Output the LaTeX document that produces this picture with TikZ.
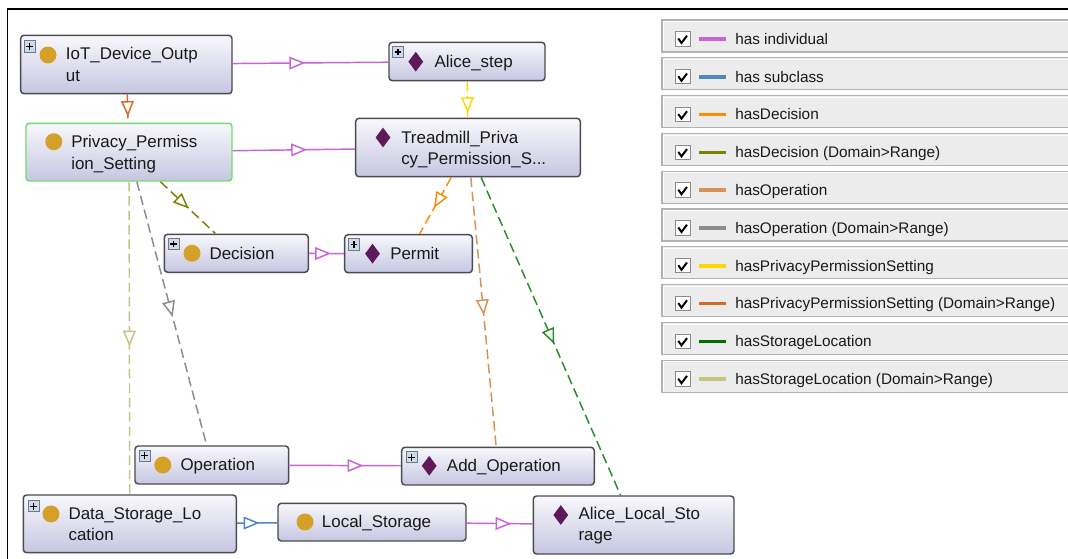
\documentclass[tikz,border=0pt]{standalone}
\usepackage{fontspec}
\setmainfont{Liberation Sans}
\usetikzlibrary{fit,decorations.markings,shapes.geometric}

\definecolor{cind}{RGB}{200,100,215}
\definecolor{csub}{RGB}{80,135,190}
\definecolor{cdec}{RGB}{255,140,0}
\definecolor{cdecdr}{RGB}{128,128,0}
\definecolor{cop}{RGB}{215,145,85}
\definecolor{copdr}{RGB}{140,140,140}
\definecolor{cpps}{RGB}{255,215,0}
\definecolor{cppsdr}{RGB}{215,105,40}
\definecolor{cstor}{RGB}{0,110,0}
\definecolor{cstoredge}{RGB}{40,140,40}
\definecolor{cstordr}{RGB}{200,195,130}
\definecolor{nodeborder}{RGB}{75,75,80}
\definecolor{nodetop}{RGB}{248,248,252}
\definecolor{nodebot}{RGB}{198,198,226}
\definecolor{clsgold}{RGB}{212,160,40}
\definecolor{indpurple}{RGB}{95,25,90}
\definecolor{legfill}{RGB}{236,236,236}
\definecolor{legedge}{RGB}{178,178,178}
\definecolor{txt}{RGB}{25,25,25}
\definecolor{selgreen}{RGB}{110,220,110}
\definecolor{plusfill}{RGB}{205,218,232}
\definecolor{plusedge}{RGB}{110,120,135}

\tikzset{
 ontobox/.style={draw=nodeborder, line width=1.1pt, rounded corners=2.5pt, top color=nodetop, bottom color=nodebot, inner sep=0pt},
 selbox/.style={draw=selgreen},
 lbl/.style={anchor=base west, inner sep=0pt, text=txt, font=\fontsize{12.7}{15}\selectfont},
 clsicon/.style={circle, fill=clsgold, inner sep=0pt, minimum size=12.75pt},
 indicon/.style={diamond, fill=indpurple, inner sep=0pt, minimum width=11.25pt, minimum height=15pt},
 plusicon/.style={rectangle, draw=plusedge, line width=0.6pt, fill=plusfill, inner sep=0pt, minimum size=8.4pt,
   path picture={\draw[black, line width=0.8pt] (path picture bounding box.center) ++(-2.5pt,0pt) -- ++(5pt,0pt)
     (path picture bounding box.center) ++(0pt,-2.5pt) -- ++(0pt,5pt);}},
 rel/.style={line width=1.1pt},
 dashrel/.style={rel, dash pattern=on 7.2pt off 3.6pt},
 legbox/.style={draw=legedge, line width=0.9pt, fill=legfill, inner sep=0pt},
 chkbox/.style={draw={rgb,255:red,140;green,140;blue,140}, line width=0.6pt, fill=white, inner sep=0pt},
 legtxt/.style={anchor=base west, inner sep=0pt, text=txt, font=\fontsize{11.5}{14}\selectfont},
}

\newcommand\ontorel[3]{%
  \draw[#1] (#2) -- (#3);
  \path[decorate, decoration={markings, mark=at position 0.5 with {\draw[#1, solid, fill=white, line join=miter] (-4.9pt,4.1pt) -- (4.9pt,0pt) -- (-4.9pt,-4.1pt) -- cycle;}}] (#2.center) -- (#3.center);
}

\begin{document}
\begin{tikzpicture}[x=0.75pt, y=-0.75pt]
\useasboundingbox (0,0) rectangle (1068,559);
\fill[white] (0,0) rectangle (1068,559);
% frame
\draw[black, line width=1.1pt] (7.5,570) -- (7.5,9) -- (1075,9);

% ---------- nodes ----------
\node[ontobox, fit={(20.7,35.3) (232,93.7)}] (iot) {};
\node[plusicon] (iotP) at (29.6,46.4) {};
\node[clsicon] (iotI) at (48,55) {};
\node[lbl] (iotA) at (65.7,60) {IoT\_Device\_Outp};
\node[lbl] (iotB) at (65.7,81.7) {ut};

\node[ontobox, selbox, fit={(26,123.3) (232,181)}] (pps) {};
\node[clsicon] (ppsI) at (53.8,141.7) {};
\node[lbl] (ppsA) at (71,147.5) {Privacy\_Permiss};
\node[lbl] (ppsB) at (71,169.5) {ion\_Setting};

\node[ontobox, fit={(389,42.3) (545,80.7)}] (alicestep) {};
\node[plusicon] (alicestepP) at (398,52) {};
\node[indicon] (alicestepI) at (415.8,61.7) {};
\node[lbl] (alicestepA) at (434.3,67.7) {Alice\_step};

\node[ontobox, fit={(355.7,118.3) (580.3,176.7)}] (tread) {};
\node[indicon] (treadI) at (383,137.5) {};
\node[lbl] (treadA) at (401,143.3) {Treadmill\_Priva};
\node[lbl] (treadB) at (401,165) {cy\_Permission\_S...};

\node[ontobox, fit={(164.3,234.3) (308.3,272.3)}] (decision) {};
\node[plusicon] (decisionP) at (173.5,244) {};
\node[clsicon] (decisionI) at (192,253.3) {};
\node[lbl] (decisionA) at (209.3,259.3) {Decision};

\node[ontobox, fit={(344.7,234.7) (472.3,272.7)}] (permit) {};
\node[plusicon] (permitP) at (354,244.4) {};
\node[indicon] (permitI) at (372.5,253.7) {};
\node[lbl] (permitA) at (390,259.7) {Permit};

\node[ontobox, fit={(135,446) (288.7,484)}] (operation) {};
\node[plusicon] (operationP) at (144.6,455.7) {};
\node[clsicon] (operationI) at (162.8,465) {};
\node[lbl] (operationA) at (180.3,470.5) {Operation};

\node[ontobox, fit={(401.7,447.3) (594.3,485)}] (addop) {};
\node[plusicon] (addopP) at (411.6,457.2) {};
\node[indicon] (addopI) at (429.2,465.8) {};
\node[lbl] (addopA) at (446.7,471.7) {Add\_Operation};

\node[ontobox, fit={(23.3,495) (236.3,552.7)}] (dsl) {};
\node[plusicon] (dslP) at (33.6,506.2) {};
\node[clsicon] (dslI) at (51,514) {};
\node[lbl] (dslA) at (68.3,520) {Data\_Storage\_Lo};
\node[lbl] (dslB) at (68.3,540.7) {cation};

\node[ontobox, fit={(278,503.3) (466,541)}] (local) {};
\node[clsicon] (localI) at (305,522) {};
\node[lbl] (localA) at (321.7,527.3) {Local\_Storage};

\node[ontobox, fit={(533.3,496) (734,554)}] (als) {};
\node[indicon] (alsI) at (560.8,515) {};
\node[lbl] (alsA) at (578.3,520) {Alice\_Local\_Sto};
\node[lbl] (alsB) at (578.3,540.7) {rage};

% ---------- connectors ----------
\ontorel{rel, cind}{iot}{alicestep}
\ontorel{rel, cind}{pps}{tread}
\ontorel{dashrel, cppsdr}{iot}{pps}
\ontorel{dashrel, cpps}{alicestep}{tread}
\ontorel{dashrel, cdecdr}{pps}{decision}
\ontorel{rel, cind}{decision}{permit}
\ontorel{dashrel, cdec}{tread}{permit}
\ontorel{dashrel, copdr}{pps}{operation}
\ontorel{dashrel, cstordr}{pps}{dsl}
\ontorel{dashrel, cop}{tread}{addop}
\ontorel{dashrel, cstoredge}{tread}{als}
\ontorel{rel, cind}{operation}{addop}
\ontorel{rel, csub}{dsl}{local}
\ontorel{rel, cind}{local}{als}

% ---------- legend ----------
\foreach \i/\c/\t in {0/cind/{has individual}, 1/csub/{has subclass}, 2/cdec/{hasDecision},
  3/cdecdr/{hasDecision (Domain>Range)}, 4/cop/{hasOperation}, 5/copdr/{hasOperation (Domain>Range)},
  6/cpps/{hasPrivacyPermissionSetting}, 7/cppsdr/{hasPrivacyPermissionSetting (Domain>Range)},
  8/cstor/{hasStorageLocation}, 9/cstordr/{hasStorageLocation (Domain>Range)}} {
  \pgfmathsetmacro\ly{20+37.8*\i}
  \node[legbox, fit={(662,\ly) (1090,\ly+32)}] (legbox\i) {};
  \draw[white, line width=0.6pt] (1090,\ly+1.6) -- (663.6,\ly+1.6) -- (663.6,\ly+30.4);
  \node[chkbox, fit={(675,\ly+11.7) (690,\ly+26)}] (legchk\i) {};
  \draw[black, line width=1.5pt] (678.3,\ly+18.5) -- (681.5,\ly+23) -- (687,\ly+15.7);
  \draw[\c, line width=2.6pt] (699,\ly+19) -- (726,\ly+19);
  \node[legtxt] (legtxt\i) at (735,\ly+24.3) {\t};
}
\end{tikzpicture}
\end{document}
